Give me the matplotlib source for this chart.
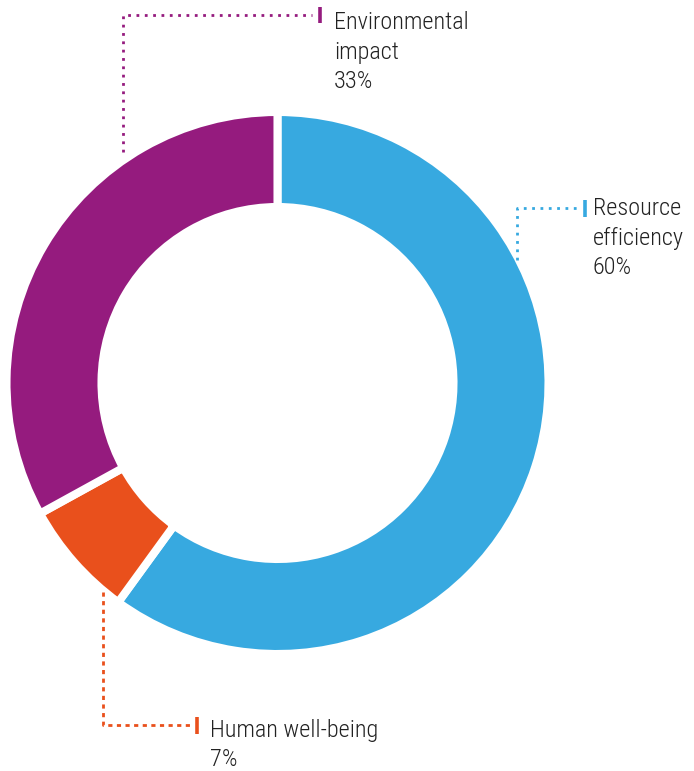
import matplotlib
matplotlib.use('Agg')
import matplotlib.pyplot as plt

# data
labels = ['Resource\nefficiency', 'Human well-being', 'Environmental\nimpact']
shares = [60, 7, 33]
colors = ['#37A9E0', '#E9501C', '#951B7E']

W, H = 694, 771
plt.rcParams['font.family'] = ['Roboto Condensed', 'Liberation Sans Narrow', 'Roboto', 'DejaVu Sans']

fig = plt.figure(figsize=(W / 100, H / 100), dpi=100)
ax = fig.add_axes([0, 0, 1, 1])


def Y(py):
    # pixel row -> data y
    return H - py


cx, cy = 277.5, Y(383)
r_out, r_in = 271, 176

ax.pie(shares, colors=colors, startangle=90, counterclock=False,
       radius=r_out, center=(cx, cy),
       wedgeprops=dict(width=r_out - r_in, edgecolor='white', linewidth=5.8))

# leader line layout per label: dotted path, solid tick, text anchor (x, first baseline)
leaders = {
    'Resource\nefficiency': dict(pts=[(517, 260), (517, 208), (579, 208)], bar=(585, 200, 217), txt=(593, 215)),
    'Human well-being': dict(pts=[(103, 592), (103, 725), (190, 725)], bar=(197, 717, 734), txt=(210, 737)),
    'Environmental\nimpact': dict(pts=[(123, 152), (123, 15), (312, 15)], bar=(320, 7, 23), txt=(334, 29)),
}

for lab, val, col in zip(labels, shares, colors):
    L = leaders[lab]
    xs = [p[0] for p in L['pts']]
    ys = [Y(p[1]) for p in L['pts']]
    dash = (0, (1.5, 1.6)) if lab == 'Human well-being' else (0, (1, 2))
    ax.plot(xs, ys, color=col, lw=2.0, linestyle=dash, solid_capstyle='butt', dash_capstyle='butt')
    bx, by0, by1 = L['bar']
    ax.plot([bx, bx], [Y(by0), Y(by1)], color=col, lw=2.6, solid_capstyle='butt')
    tx, ty = L['txt']
    lines = lab.split('\n') + ['%d%%' % val]
    for i, s in enumerate(lines):
        ax.text(tx, Y(ty + 29.5 * i), s, fontsize=17.5, fontweight='light',
                color='#222222', ha='left', va='baseline')

ax.set_aspect('auto')
ax.set_xlim(0, W)
ax.set_ylim(0, H)
ax.axis('off')

plt.savefig('out.png', dpi=100)
